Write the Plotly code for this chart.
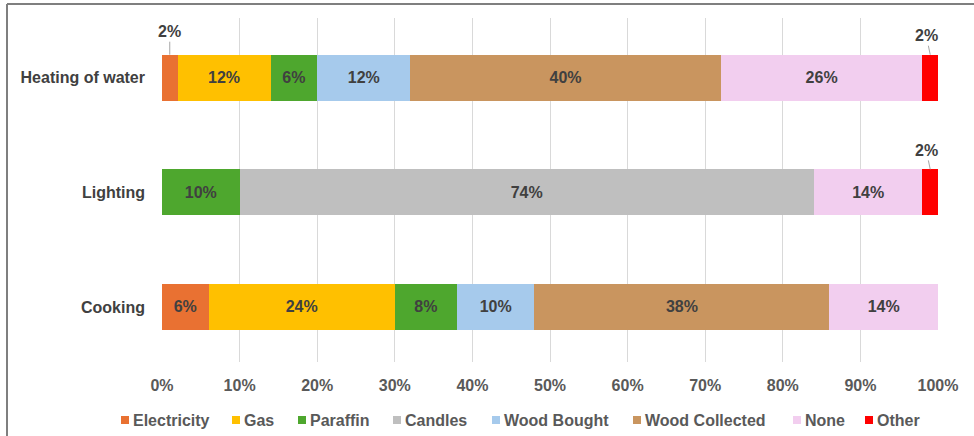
import plotly.graph_objects as go

# Share of households using each energy source, per purpose (%)
categories = ["Cooking", "Lighting", "Heating of water"]
series = ["Electricity", "Gas", "Paraffin", "Candles", "Wood Bought",
          "Wood Collected", "None", "Other"]
electricity = [6, 0, 2]
gas = [24, 0, 12]
paraffin = [8, 10, 6]
candles = [0, 74, 0]
wood_bought = [10, 0, 12]
wood_collected = [38, 0, 40]
none_ = [14, 14, 26]
other = [0, 2, 2]

values = [electricity, gas, paraffin, candles, wood_bought,
          wood_collected, none_, other]
colors = ["#E97132", "#FFC000", "#4EA72E", "#BFBFBF", "#A6CAEC",
          "#C9955F", "#F2CEEF", "#FF0000"]

FONT = "Liberation Sans, Arial, sans-serif"
LABEL_COLOR = "#404040"
TICK_COLOR = "#595959"

# Figure geometry (pixels)
L, R, T, B = 162, 36, 18, 74
W, H = 974, 436
pw, ph = W - L - R, H - T - B


def px_x(p):
    return (p - L) / pw


def px_y(p):
    return (H - B - p) / ph


fig = go.Figure()
for name, vals, col in zip(series, values, colors):
    # small slices get an outside callout instead of an inside label
    txt = [f"{v}%" if v > 2 else "" for v in vals]
    fig.add_trace(go.Bar(
        name=name, y=categories, x=vals, orientation="h",
        marker=dict(color=col, line=dict(width=0)),
        text=txt, textposition="inside", insidetextanchor="middle",
        textfont=dict(family=FONT, size=16, color=LABEL_COLOR,
                      weight="bold"),
        textangle=0, width=0.4, hoverinfo="skip", showlegend=False,
    ))

# Callouts for the 2% slices
for ci, cat in enumerate(categories):
    left = 0
    for si, vals in enumerate(values):
        v = vals[ci]
        if 0 < v <= 2:
            ax, ay = (0, -23) if si == 0 else (-4, -19)
            fig.add_annotation(
                x=left + v / 2, y=ci + 0.2, xref="x", yref="y",
                text=f"<b>{v}%</b>", showarrow=True, arrowhead=0,
                arrowwidth=1, arrowcolor="#A6A6A6", ax=ax, ay=ay,
                font=dict(family=FONT, size=16, color=LABEL_COLOR),
            )
        left += v

# Legend row: colour square followed by the series name
legend_x = [121, 232, 298, 393, 492, 633, 793, 865]
legend_y = 420
for name, col, lx in zip(series, colors, legend_x):
    fig.add_shape(type="rect", xref="paper", yref="paper",
                  x0=px_x(lx), x1=px_x(lx + 8),
                  y0=px_y(legend_y - 4), y1=px_y(legend_y + 4),
                  fillcolor=col, line=dict(width=0))
    fig.add_annotation(x=px_x(lx + 10), y=px_y(legend_y), xref="paper",
                       yref="paper", text=f"<b>{name}</b>",
                       showarrow=False, xanchor="left", yanchor="middle",
                       font=dict(family=FONT, size=16, color=TICK_COLOR))

# Outer frame of the chart area
fig.add_shape(type="line", xref="paper", yref="paper",
              x0=px_x(7), x1=px_x(980), y0=px_y(4), y1=px_y(4),
              line=dict(color="#7F7F7F", width=2))
fig.add_shape(type="line", xref="paper", yref="paper",
              x0=px_x(7), x1=px_x(7), y0=px_y(4), y1=px_y(440),
              line=dict(color="#7F7F7F", width=2))

fig.update_layout(
    barmode="stack",
    width=W, height=H,
    margin=dict(l=L, r=R, t=T, b=B, pad=0, autoexpand=False),
    paper_bgcolor="white", plot_bgcolor="white",
    font=dict(family=FONT, size=16, color=TICK_COLOR),
    showlegend=False,
    xaxis=dict(range=[0, 100], tickvals=list(range(0, 101, 10)),
               ticktext=[f"<b>{t}%</b>" for t in range(0, 101, 10)],
               showgrid=True, gridcolor="#D9D9D9", gridwidth=1,
               zeroline=False, showline=False, ticks="",
               tickfont=dict(family=FONT, size=16, color=TICK_COLOR),
               ticklabelstandoff=12, fixedrange=True, automargin=False),
    yaxis=dict(range=[-0.48, 2.52], showgrid=False, zeroline=False,
               ticks="", ticklabelstandoff=16,
               ticktext=[f"<b>{c}</b>" for c in categories],
               tickvals=categories,
               tickfont=dict(family=FONT, size=16, color=LABEL_COLOR),
               fixedrange=True, automargin=False),
)

fig.write_html("out.html")
